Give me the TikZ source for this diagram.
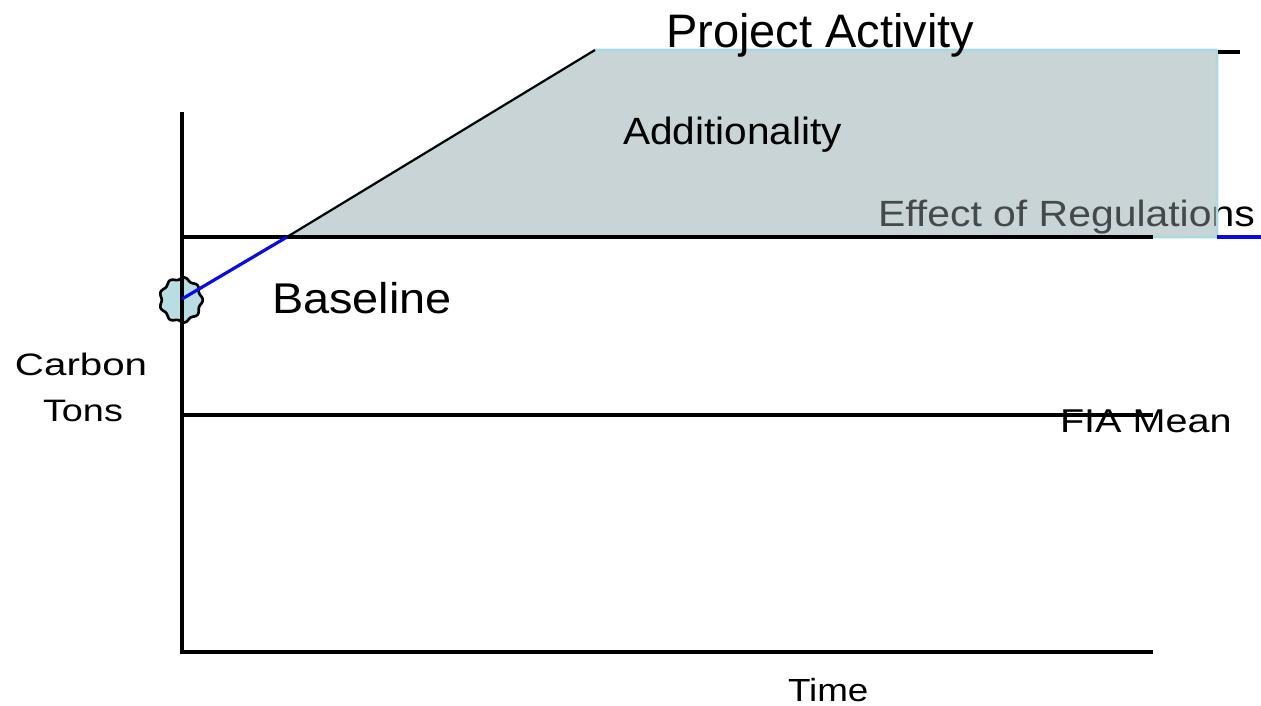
\documentclass[tikz,border=0pt]{standalone}
\usepackage{fontspec}
\setmainfont{Liberation Sans}
\definecolor{shadecol}{RGB}{200,212,214}
\definecolor{edgecol}{RGB}{170,218,225}
\definecolor{blobcol}{RGB}{184,222,228}
\definecolor{bluecol}{RGB}{10,10,230}
\newcommand\fsz[1]{\fontsize{#1pt}{#1pt}\selectfont}
\begin{document}
\begin{tikzpicture}[x=0.75pt,y=-0.75pt,
  axisline/.style={line width=2.6pt, black},
  guideline/.style={line width=2.3pt, black},
  blueline/.style={line width=2.4pt, bluecol},
  lbl/.style={inner sep=0pt, outer sep=0pt, anchor=base west, text=black}]
\useasboundingbox (0,0) rectangle (1261,706);
% coordinates
\coordinate (O) at (182,652);
\coordinate (Ytop) at (182,112);
\coordinate (Xend) at (1153,652);
\coordinate (BL0) at (182,237);
\coordinate (BL1) at (1153,237);
\coordinate (F0) at (182,415);
\coordinate (F1) at (1153,415);
\coordinate (P0) at (287,237);
\coordinate (P1) at (595,50);
\coordinate (P2) at (1217,50);
\coordinate (P3) at (1217,237);
\coordinate (B1) at (1261,237);
\coordinate (K0) at (1218,52);
\coordinate (K1) at (1240,52);
\coordinate (blob) at (182,299);
% shaded region
\fill[shadecol] (P0) -- (P1) -- (P2) -- (P3) -- cycle;
\node[lbl, xscale=1.12] (effect) at (878,227) {\fsz{27.4}Effect of Regulations};
\fill[shadecol, fill opacity=0.35] (P0) -- (P1) -- (P2) -- (P3) -- cycle;
\draw[edgecol, line width=2pt, line join=round] (P0) -- (P1) -- (P2) -- (P3) -- cycle;
\node[lbl, xscale=1.07] (add) at (623,145) {\fsz{28.5}Additionality};
% lines
\draw[guideline] (BL0) -- (BL1);
\draw[blueline] (P3) -- (B1);
\draw[guideline] (F0) -- (F1);
\draw[line width=1.6pt, black] (P0) -- (P1);
\draw[line width=2.6pt, black] (K0) -- (K1);
% blob
\draw[line width=2pt, black, fill=blobcol, line join=round]
  plot[smooth cycle, domain=0:355, samples=72]
  ({181+(20.5+1.3*cos(9*\x))*cos(\x)},{300+(21.5+1.3*cos(9*\x))*sin(\x)});
% axes
\draw[axisline] (Ytop) -- (O) -- (Xend);
\draw[blueline] (blob) -- (P0);
% labels
\node[lbl] (proj) at (666,48) {\fsz{35.25}Project Activity};
\node[lbl, xscale=1.09] (base) at (272,313) {\fsz{32.25}Baseline};
\node[lbl, xscale=1.3] (carbon) at (15,375) {\fsz{23.25}Carbon};
\node[lbl, xscale=1.22] (tons) at (43,421) {\fsz{23.25}Tons};
\node[lbl, xscale=1.2] (fia) at (1060,432) {\fsz{24.75}FIA Mean};
\node[lbl, xscale=1.15] (time) at (788,701) {\fsz{24}Time};
\end{tikzpicture}
\end{document}
